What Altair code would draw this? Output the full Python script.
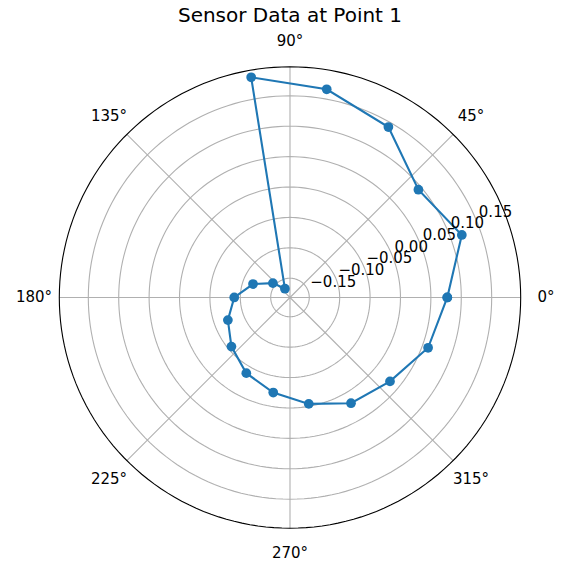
import math
import altair as alt
import pandas as pd

TITLE = "Sensor Data at Point 1"

# data: angle (degrees) and radial value
angles_deg = [0, 20, 40, 60, 80, 100, 120, 140, 160, 180, 200, 220, 240, 260, 280, 300, 320, 340, 360]
values = [0.077, 0.119, 0.094, 0.142, 0.166, 0.186, -0.165, -0.145, -0.117, -0.090,
          -0.073, -0.056, -0.038, -0.023, -0.004, 0.019, 0.033, 0.060, 0.077]

radial_ticks = [-0.15, -0.10, -0.05, 0.00, 0.05, 0.10, 0.15]
radial_tick_labels = ["−0.15", "−0.10", "−0.05", "0.00", "0.05", "0.10", "0.15"]
theta_ticks = [0, 45, 90, 135, 180, 225, 270, 315]
theta_tick_labels = ["0°", "45°", "90°", "135°", "180°", "225°", "270°", "315°"]

RMIN, RMAX = -0.1817, 0.1977
SPAN = RMAX - RMIN
R_PX = 230.7
LABEL_FACTOR = 256.0 / R_PX
RLABEL_ANGLE = 22.5

BLUE = "#1f77b4"
GRID = "#b0b0b0"
FONT = "DejaVu Sans"

df = pd.DataFrame({"i": list(range(len(values))), "deg": angles_deg, "v": values})
spoke_df = pd.DataFrame({"deg": theta_ticks})
rlab_df = pd.DataFrame({"v": radial_ticks, "label": radial_tick_labels})
tlab_df = pd.DataFrame({"deg": theta_ticks, "label": theta_tick_labels})

xs = alt.Scale(domain=[-SPAN, SPAN], nice=False, zero=False)
ys = alt.Scale(domain=[-SPAN, SPAN], nice=False, zero=False)

X = lambda f: alt.X(f, type="quantitative", scale=xs, axis=None)
Y = lambda f: alt.Y(f, type="quantitative", scale=ys, axis=None)


def ring(level, color):
    return alt.Chart(alt.sequence(0, 362, 2, as_="deg")).transform_calculate(
        x=f"({level} - ({RMIN}))*cos(datum.deg*PI/180)",
        y=f"({level} - ({RMIN}))*sin(datum.deg*PI/180)",
    ).mark_line(color=color, strokeWidth=1.1).encode(
        x=X("x"), y=Y("y"), order="deg:Q"
    )


circles = [ring(v, GRID) for v in radial_ticks]
outer = ring(RMAX, "black")

spokes = alt.Chart(spoke_df).transform_calculate(
    x0="0", y0="0",
    x2=f"{SPAN}*cos(datum.deg*PI/180)",
    y2=f"{SPAN}*sin(datum.deg*PI/180)",
).mark_rule(stroke=GRID, strokeWidth=1.1).encode(
    x=X("x0"), y=Y("y0"), x2="x2:Q", y2="y2:Q"
)

base = alt.Chart(df).transform_calculate(
    x=f"(datum.v - ({RMIN}))*cos(datum.deg*PI/180)",
    y=f"(datum.v - ({RMIN}))*sin(datum.deg*PI/180)",
)
line = base.mark_line(color=BLUE, strokeWidth=2.1).encode(
    x=X("x"), y=Y("y"), order="i:Q"
)
pts = base.mark_circle(color=BLUE, size=95, opacity=1).encode(x=X("x"), y=Y("y"))

rlabels = alt.Chart(rlab_df).transform_calculate(
    x=f"(datum.v - ({RMIN}))*cos({RLABEL_ANGLE}*PI/180)",
    y=f"(datum.v - ({RMIN}))*sin({RLABEL_ANGLE}*PI/180)",
).mark_text(
    align="left", baseline="alphabetic", dx=2.5, dy=-3.5, font=FONT, fontSize=15, color="black"
).encode(x=X("x"), y=Y("y"), text="label:N")

tlabels = alt.Chart(tlab_df).transform_calculate(
    x=f"{SPAN * LABEL_FACTOR}*cos(datum.deg*PI/180)",
    y=f"{SPAN * LABEL_FACTOR}*sin(datum.deg*PI/180)",
).mark_text(
    align="center", baseline="middle", font=FONT, fontSize=15, color="black"
).encode(x=X("x"), y=Y("y"), text="label:N")

chart = alt.layer(*circles, spokes, outer, line, pts, rlabels, tlabels).properties(
    width=2 * R_PX,
    height=2 * R_PX,
    title=alt.TitleParams(TITLE, font=FONT, fontSize=20, fontWeight="normal",
                          color="black", anchor="middle", baseline="alphabetic",
                          offset=10, dy=18),
    autosize=alt.AutoSizeParams(type="none"),
    padding={"left": 290 - R_PX - 8, "top": 297.5 - R_PX - 8, "right": 40, "bottom": 40},
).configure_view(stroke=None)

chart.save("out.html", embed_options={"renderer": "svg", "actions": False})
